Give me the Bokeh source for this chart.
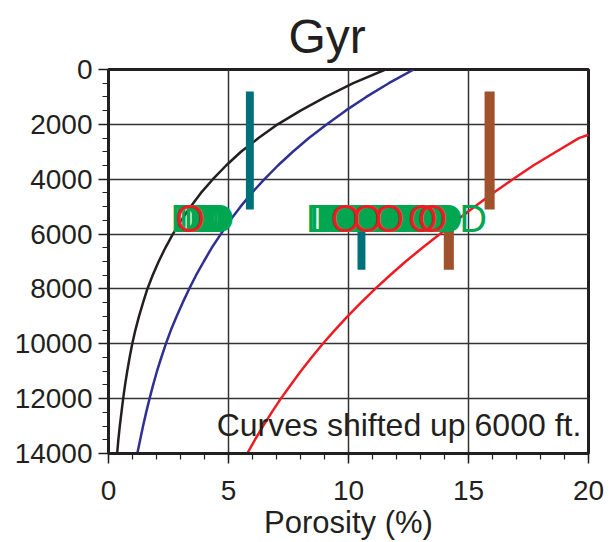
from bokeh.plotting import figure
from bokeh.models import Range1d, SingleIntervalTicker, Label
from bokeh.core.properties import value
from bokeh.embed import file_html
from bokeh.resources import INLINE

# ---- data ----
black_depth = [0, 500, 1000, 1500, 2000, 2500, 3000, 3500, 4000, 4500, 5000, 5500, 6000, 6500,
               7000, 7500, 8000, 8500, 9000, 9500, 10000, 10500, 11000, 11500, 12000, 12500,
               13000, 13500, 14000]
black_poro = [11.54, 10.2, 9.05, 8.0, 7.05, 6.25, 5.52, 4.9, 4.35, 3.85, 3.42, 3.03, 2.68, 2.37,
              2.09, 1.84, 1.62, 1.44, 1.27, 1.12, 0.99, 0.88, 0.78, 0.69, 0.61, 0.54,
              0.47, 0.41, 0.36]

blue_depth = [0, 500, 1000, 1500, 2000, 2500, 3000, 3500, 4000, 4500, 5000, 5500, 6000, 6500,
              7000, 7500, 8000, 8500, 9000, 9500, 10000, 10500, 11000, 11500, 12000, 12500,
              13000, 13500, 14000]
blue_poro = [12.72, 11.68, 10.74, 9.88, 9.1, 8.35, 7.68, 7.06, 6.5, 5.97, 5.5, 5.07, 4.68, 4.3,
             3.97, 3.65, 3.36, 3.09, 2.84, 2.6, 2.39, 2.2, 2.02, 1.86, 1.71, 1.57,
             1.44, 1.32, 1.2]

red_depth = [2380, 2500, 3000, 3500, 4000, 4500, 5000, 5500, 6000, 6500, 7000, 7500, 8000,
             8500, 9000, 9500, 10000, 10500, 11000, 11500, 12000, 12500, 13000, 13500, 14000]
red_poro = [20.0, 19.6, 18.65, 17.7, 16.85, 16.03, 15.25, 14.51, 13.81, 13.08, 12.38, 11.73, 11.11,
            10.52, 9.96, 9.43, 8.93, 8.46, 8.01, 7.59, 7.18, 6.8, 6.44, 6.1, 5.78]

teal_x = [5.89, 10.54]
teal_top = [800, 5500]
teal_bottom = [5100, 7300]

brown_x = [15.88, 14.18]
brown_top = [800, 5500]
brown_bottom = [5100, 7300]

marker_depth = 5450
d_x = [3.15, 3.3, 3.5, 3.7, 3.9, 4.05, 4.2, 4.3, 4.4, 4.5, 4.6, 4.67,
       8.8, 8.95, 9.2, 9.3, 9.4, 9.5, 9.6, 9.7, 9.8, 9.9, 10.0, 10.1, 10.2, 10.3, 10.4,
       10.5, 10.6, 10.7, 10.8, 10.9, 11.0, 11.1, 11.2, 11.3, 11.4, 11.5, 11.6, 11.7,
       11.8, 11.9, 12.0, 12.1, 12.2, 12.3, 12.4, 12.5, 12.6, 12.7, 12.8, 12.9, 13.0,
       13.1, 13.2, 13.3, 13.4, 13.5, 13.6, 13.7, 13.8, 13.9, 14.0, 14.1, 14.19, 15.2]
o_x = [3.4, 9.88, 10.78, 11.7, 13.1, 13.5]

FONT = "Liberation Sans"
TXT = "#231f20"

p = figure(width=611, height=542, output_backend="svg", toolbar_location=None,
           x_range=Range1d(0, 20), y_range=Range1d(14000, 0),
           title="Gyr", min_border_left=108, min_border_right=23,
           min_border_top=69, min_border_bottom=89)

p.title.text_font = FONT
p.title.text_font_size = "48px"
p.title.text_font_style = "normal"
p.title.text_color = TXT
p.title.align = "left"
p.title.offset = 180
p.title.standoff = 14

p.background_fill_color = "white"
p.outline_line_color = TXT
p.outline_line_width = 3
p.outline_line_alpha = 1

p.xaxis.ticker = SingleIntervalTicker(interval=5, num_minor_ticks=5)
p.yaxis.ticker = SingleIntervalTicker(interval=2000, num_minor_ticks=4)
for ax in (p.xaxis[0], p.yaxis[0]):
    ax.major_label_text_font = FONT
    ax.major_label_text_font_size = "28px"
    ax.major_label_text_color = TXT
    ax.axis_line_color = TXT
    ax.axis_line_width = 3
    ax.major_tick_line_color = TXT
    ax.minor_tick_line_color = TXT
    ax.major_tick_line_width = 1.5
    ax.minor_tick_line_width = 1.2
    ax.major_tick_out = 10
    ax.major_tick_in = 0
    ax.minor_tick_out = 6
    ax.minor_tick_in = 0
    ax.axis_label_text_font = FONT
    ax.axis_label_text_font_style = "normal"
    ax.axis_label_text_color = TXT

p.xaxis.axis_label = "Porosity (%)"
p.xaxis.axis_label_text_font_size = "31px"
p.xaxis.major_label_standoff = 17
p.xaxis.axis_label_standoff = 2
p.yaxis.major_label_standoff = 6

p.xgrid.grid_line_color = "#333333"
p.ygrid.grid_line_color = "#333333"
p.xgrid.grid_line_width = 1.5
p.ygrid.grid_line_width = 1.5

p.line(black_poro, black_depth, line_color="#231f20", line_width=2.5)
p.line(blue_poro, blue_depth, line_color="#2e3192", line_width=2.5)
p.line(red_poro, red_depth, line_color="#ed1c24", line_width=2.5)

p.vbar(x=teal_x, width=0.33, top=teal_top, bottom=teal_bottom, fill_color="#00707a", line_color=None)
p.vbar(x=brown_x, width=0.42, top=brown_top, bottom=brown_bottom, fill_color="#a0522d", line_color=None)

p.text(x=d_x, y=[marker_depth] * len(d_x), text=["D"] * len(d_x),
       text_font=value(FONT), text_font_size="38px", text_color="#00a650",
       text_align="center", text_baseline="middle")
p.text(x=o_x, y=[marker_depth] * len(o_x), text=["O"] * len(o_x),
       text_font=value(FONT), text_font_size="38px", text_color="#ed1c24",
       text_align="center", text_baseline="middle")

p.add_layout(Label(x=19.7, y=12970, text="Curves shifted up 6000 ft.",
                   text_font=FONT, text_font_size="32px", text_color=TXT,
                   text_align="right", text_baseline="alphabetic"))

open("out.html", "w").write(file_html(p, INLINE))
